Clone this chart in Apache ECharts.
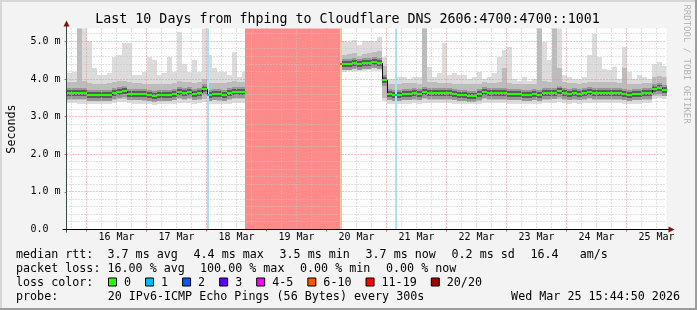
<!DOCTYPE html>
<html><head><meta charset="utf-8">
<script src="https://cdn.jsdelivr.net/npm/echarts@6/dist/echarts.min.js"></script>
<style>html,body{margin:0;padding:0;background:#f3f3f3}#c{width:697px;height:310px}</style>
</head><body><div id="c"></div>
<script>
// ---------------- data ----------------
const TITLE = 'Last 10 Days from fhping to Cloudflare DNS 2606:4700:4700::1001';
const START_HOUR = 16;   // hours since 15 Mar 00:00
const END_HOUR = 256;
const STEP = 2;          // hours per bucket

// median rtt per 2h bucket (ms)
const median = [
 3.64,3.63,3.62,3.62,3.57,3.58,3.58,3.58,3.585,3.62,3.655,3.68,3.60,3.60,3.60,3.59,3.566,3.55,3.566,3.57,
 3.585,3.60,3.65,3.62,3.646,3.59,3.637,3.73,3.575,3.60,3.59,3.58,3.62,3.66,3.645,3.645,
 null,null,null,null,null,null,null,null,null,null,null,null,null,null,null,null,null,null,null,
 4.39,4.39,4.42,4.40,4.43,4.43,4.46,4.42,3.97,
 3.59,3.58,3.575,3.60,3.60,3.62,3.59,3.655,3.62,3.637,3.62,3.62,3.62,3.59,3.575,3.575,3.557,3.557,3.59,3.655,
 3.62,3.62,3.62,3.637,3.59,3.59,3.59,3.575,3.575,3.59,3.575,3.62,3.62,3.637,3.68,3.62,3.59,3.62,3.59,3.62,
 3.655,3.637,3.637,3.637,3.637,3.637,3.62,3.59,3.575,3.59,3.59,3.62,3.62,3.73,3.75,3.72
];
// lowest ping
const minPing = [
 3.36,3.36,3.35,3.35,3.33,3.34,3.34,3.34,3.35,3.36,3.38,3.38,3.36,3.35,3.35,3.34,3.33,3.32,3.33,3.33,
 3.34,3.35,3.37,3.36,3.37,3.35,3.36,3.38,3.34,3.35,3.34,3.34,3.35,3.37,3.37,3.37,
 null,null,null,null,null,null,null,null,null,null,null,null,null,null,null,null,null,null,null,
 4.20,4.22,4.22,4.22,4.22,4.23,4.22,4.22,3.42,
 3.35,3.34,3.34,3.35,3.35,3.36,3.35,3.37,3.36,3.36,3.36,3.36,3.36,3.35,3.34,3.34,3.33,3.33,3.34,3.37,
 3.36,3.36,3.36,3.36,3.35,3.35,3.35,3.34,3.34,3.35,3.34,3.36,3.36,3.37,3.38,3.36,3.35,3.36,3.35,3.36,
 3.37,3.36,3.36,3.36,3.36,3.36,3.36,3.35,3.34,3.35,3.35,3.36,3.36,3.48,3.49,3.48
];
// 10th percentile ping
const p10 = [
 3.45,3.45,3.44,3.44,3.42,3.43,3.43,3.43,3.44,3.45,3.47,3.47,3.45,3.44,3.44,3.43,3.42,3.41,3.42,3.42,
 3.43,3.44,3.46,3.45,3.46,3.44,3.45,3.47,3.43,3.44,3.43,3.43,3.44,3.46,3.46,3.46,
 null,null,null,null,null,null,null,null,null,null,null,null,null,null,null,null,null,null,null,
 4.30,4.30,4.31,4.30,4.30,4.32,4.32,4.30,3.50,
 3.44,3.43,3.43,3.44,3.44,3.45,3.44,3.46,3.45,3.45,3.45,3.45,3.45,3.44,3.43,3.43,3.42,3.42,3.43,3.46,
 3.45,3.45,3.45,3.45,3.44,3.44,3.44,3.43,3.43,3.44,3.43,3.45,3.45,3.46,3.47,3.45,3.44,3.45,3.44,3.45,
 3.46,3.45,3.45,3.45,3.45,3.45,3.45,3.44,3.43,3.44,3.44,3.45,3.45,3.55,3.56,3.55
];
// 90th percentile ping
const p90 = [
 3.92,3.92,5.35,3.95,3.90,3.88,3.88,3.88,3.90,3.92,3.95,3.95,3.92,3.90,3.90,3.88,3.88,3.86,3.86,3.87,
 3.88,3.90,3.95,3.92,3.92,3.90,3.92,4.00,3.90,3.90,3.90,3.90,3.92,3.95,3.93,3.93,
 null,null,null,null,null,null,null,null,null,null,null,null,null,null,null,null,null,null,null,
 4.65,4.68,4.70,4.62,4.66,4.70,4.72,4.75,4.35,
 3.88,3.88,3.88,3.90,3.90,3.90,3.88,5.35,3.92,3.92,3.90,3.90,3.90,3.88,3.88,3.88,3.86,3.86,3.88,3.92,
 3.90,3.90,3.92,4.30,3.90,3.88,3.88,3.88,3.88,3.88,5.35,3.95,3.92,5.35,4.30,3.92,3.90,3.90,3.88,3.90,
 3.92,3.92,3.92,3.92,3.92,3.92,3.90,4.30,3.88,3.88,3.88,3.90,3.90,4.05,4.08,4.05
];
// highest ping
const maxPing = [
 4.15,4.20,5.35,5.35,5.00,4.30,4.10,4.10,4.15,4.60,4.65,4.95,4.95,4.10,4.10,4.20,4.60,4.50,4.10,4.15,
 4.60,4.20,5.25,4.40,4.20,4.50,4.20,5.35,4.65,4.30,4.20,4.20,4.10,4.73,4.05,4.20,
 null,null,null,null,null,null,null,null,null,null,null,null,null,null,null,null,null,null,null,
 5.00,4.98,5.03,4.90,5.00,5.02,5.00,5.12,4.60,
 4.00,4.00,4.06,4.06,4.00,4.05,4.05,5.35,4.33,4.06,4.15,4.96,4.10,4.15,4.10,4.10,4.00,4.06,4.20,4.00,
 4.05,4.15,4.60,4.78,4.86,4.00,3.95,4.05,3.95,4.00,5.35,4.98,4.50,5.35,5.35,4.10,4.05,4.00,4.00,4.05,
 4.63,5.21,4.59,4.28,4.25,4.33,4.00,4.86,4.20,4.00,4.10,4.05,4.00,4.40,4.45,4.35
];

// packet loss events (hours since 15 Mar 00:00, lost pings out of 20)
const lossStart = [72, 87.4, 125.4, 147.3];
const lossEnd   = [73, 125.7, 126.2, 148.1];
const lossCount = [1, 20, 8, 1];

// axes
const dayHours = [24, 48, 72, 96, 120, 144, 168, 192, 216, 240];
const dayLabelHours = [36, 60, 84, 108, 132, 156, 180, 204, 228, 252];
const dayLabels = ['16 Mar','17 Mar','18 Mar','19 Mar','20 Mar','21 Mar','22 Mar','23 Mar','24 Mar','25 Mar'];
const yTicks = [0, 1, 2, 3, 4, 5];
const yTickLabels = ['0.0', '1.0 m', '2.0 m', '3.0 m', '4.0 m', '5.0 m'];

// legend texts
const rttLegend = ['median rtt:  3.7 ms avg', '4.4 ms max', '3.5 ms min', '3.7 ms now', '0.2 ms sd', '16.4   am/s'];
const lossLegend = ['packet loss: 16.00 % avg', '100.00 % max', '0.00 % min', '0.00 % now'];
const lossClasses = ['0', '1', '2', '3', '4-5', '6-10', '11-19', '20/20'];
const probeText = '20 IPv6-ICMP Echo Pings (56 Bytes) every 300s';
const dateText = 'Wed Mar 25 15:44:50 2026';

// ---------------- styles ----------------
const FONT = '"DejaVu Sans Mono", monospace';
const lossLineColors = ['#26ff00', '#00b8ff', '#0059ff', '#5e00ff', '#ff00ff', '#ff5500', '#ff0000', '#a10000'];
function lossClassIdx(n) {
  if (n <= 0) return 0; if (n === 1) return 1; if (n === 2) return 2; if (n === 3) return 3;
  if (n <= 5) return 4; if (n <= 10) return 5; if (n <= 19) return 6; return 7;
}
const lossBgColors = { 1: '#a9e3f7', 5: '#ffc6a6', 7: '#ff8a8a' };
const Y_MAX = 5.345;
const GRID = { left: 66.5, top: 28.5, width: 600, height: 201 };

// ---------------- derived tables ----------------
const smokeData = [];
const medData = [];
median.forEach((m, i) => {
  if (m == null) return;
  const h = START_HOUR + i * STEP;
  smokeData.push([h, minPing[i], p10[i], p90[i], maxPing[i], m]);
  medData.push([h, m, i > 0 && median[i - 1] != null ? median[i - 1] : NaN]);
});
const lossData = lossStart.map((s, i) => [s, lossEnd[i], lossCount[i]]);
const lossMedData = [];
lossStart.forEach((s, i) => {
  const b = Math.floor((lossEnd[i] - 0.01 - START_HOUR) / STEP);
  if (median[b] != null) lossMedData.push([s, lossEnd[i], lossCount[i], median[b]]);
});
const gridData = [];
for (let h = START_HOUR + 2; h < END_HOUR; h += 6) if (h % 24) gridData.push([0, h]);
dayHours.forEach(h => gridData.push([1, h]));
for (let k = 1; k <= 26; k++) { if (k % 5) gridData.push([2, k / 5]); }
yTicks.forEach(v => { if (v > 0) gridData.push([3, v]); });

function clipR(r, cs) {
  return echarts.graphic.clipRectByRect(r, { x: cs.x, y: cs.y, width: cs.width, height: cs.height });
}
function band(api, cs, x0, x1, v0, v1, fill) {
  const xa = Math.round(api.coord([x0, 0])[0]);
  const xb = Math.round(api.coord([x1, 0])[0]);
  const ya = Math.round(api.coord([x0, v1])[1]);
  const yb = Math.round(api.coord([x0, v0])[1]);
  const r = clipR({ x: xa, y: ya, width: xb - xa, height: yb - ya }, cs);
  return r ? { type: 'rect', shape: r, style: { fill: fill } } : null;
}

// ---------------- chart ----------------
const chart = echarts.init(document.getElementById('c'), null, { renderer: 'canvas' });

const graphics = [];
// frame
graphics.push({ type: 'rect', shape: { x: 0, y: 0, width: 697, height: 2 }, style: { fill: '#d6d6d6' }, silent: true });
graphics.push({ type: 'rect', shape: { x: 0, y: 0, width: 2, height: 310 }, style: { fill: '#d6d6d6' }, silent: true });
graphics.push({ type: 'rect', shape: { x: 0, y: 308, width: 697, height: 2 }, style: { fill: '#9c9c9c' }, silent: true });
graphics.push({ type: 'rect', shape: { x: 695, y: 0, width: 2, height: 310 }, style: { fill: '#9c9c9c' }, silent: true });
// title
graphics.push({ type: 'text', x: 347.5, y: 19.5, style: { text: TITLE, font: '13.3px ' + FONT, fill: '#000', textAlign: 'center', textVerticalAlign: 'middle' } });
// rrdtool signature
graphics.push({ type: 'text', x: 686, y: 64, rotation: -Math.PI / 2, style: { text: 'RRDTOOL / TOBI OETIKER', font: '9px ' + FONT, fill: '#b4b4b4', textAlign: 'center', textVerticalAlign: 'middle' } });
// axis lines, extensions and arrows
const gx = GRID.left, gy0 = GRID.top, gy1 = GRID.top + GRID.height, gx1 = GRID.left + GRID.width;
graphics.push({ type: 'line', z: 100, shape: { x1: gx, y1: gy0 - 3, x2: gx, y2: gy1 + 3 }, style: { stroke: '#3a4a44', lineWidth: 1 } });
graphics.push({ type: 'line', z: 100, shape: { x1: gx - 4, y1: gy1, x2: gx1 + 3, y2: gy1 }, style: { stroke: '#000', lineWidth: 1 } });
graphics.push({ type: 'polygon', z: 100, shape: { points: [[gx, gy0 - 8], [gx - 3, gy0 - 2], [gx + 3, gy0 - 2]] }, style: { fill: '#8b0e0e' } });
graphics.push({ type: 'polygon', z: 100, shape: { points: [[gx1 + 8, gy1], [gx1 + 2, gy1 - 3], [gx1 + 2, gy1 + 3]] }, style: { fill: '#8b0e0e' } });

// legend rows
const legendFont = '11.7px ' + FONT;
const rowY = [254.5, 268.5, 282.5, 296.5];
const rttX = [16, 193.5, 279.5, 365.5, 451.5, 530.5];
rttLegend.forEach((t, i) => graphics.push({ type: 'text', x: rttX[i], y: rowY[0], style: { text: t, font: legendFont, fill: '#000', textVerticalAlign: 'middle' } }));
const lossX = [16, 200, 300, 386];
lossLegend.forEach((t, i) => graphics.push({ type: 'text', x: lossX[i], y: rowY[1], style: { text: t, font: legendFont, fill: '#000', textVerticalAlign: 'middle' } }));
graphics.push({ type: 'text', x: 16, y: rowY[2], style: { text: 'loss color:', font: legendFont, fill: '#000', textVerticalAlign: 'middle' } });
let bx = 108;
lossClasses.forEach((t, i) => {
  graphics.push({ type: 'rect', shape: { x: bx + 0.5, y: rowY[2] - 4.5, width: 8, height: 8 }, style: { fill: lossLineColors[i], stroke: '#000', lineWidth: 1 } });
  graphics.push({ type: 'text', x: bx + 16, y: rowY[2], style: { text: t, font: legendFont, fill: '#000', textVerticalAlign: 'middle' } });
  bx += 30 + 7.05 * t.length;
});
graphics.push({ type: 'text', x: 16, y: rowY[3], style: { text: 'probe:', font: legendFont, fill: '#000', textVerticalAlign: 'middle' } });
graphics.push({ type: 'text', x: 107.7, y: rowY[3], style: { text: probeText, font: legendFont, fill: '#000', textVerticalAlign: 'middle' } });
graphics.push({ type: 'text', x: 680, y: rowY[3], style: { text: dateText, font: legendFont, fill: '#000', textAlign: 'right', textVerticalAlign: 'middle' } });

const option = {
  animation: false,
  backgroundColor: '#f3f3f3',
  grid: { left: GRID.left, top: GRID.top, width: GRID.width, height: GRID.height, show: true, backgroundColor: '#ffffff', borderWidth: 0, containLabel: false, outerBoundsMode: 'none' },
  xAxis: {
    type: 'value', min: START_HOUR, max: END_HOUR,
    axisLine: { show: false },
    axisTick: { show: true, customValues: dayHours, length: 2, lineStyle: { color: '#e06060' } },
    axisLabel: { customValues: dayLabelHours, formatter: v => dayLabels[dayLabelHours.indexOf(v)] || '', fontFamily: FONT, fontSize: 10, color: '#000', margin: 3 },
    splitLine: { show: false }
  },
  yAxis: {
    type: 'value', min: 0, max: Y_MAX,
    name: 'Seconds', nameLocation: 'middle', nameGap: 49, nameRotate: 90,
    nameTextStyle: { fontFamily: FONT, fontSize: 11.7, color: '#000' },
    axisLine: { show: false },
    axisTick: { show: true, customValues: yTicks, length: 2, lineStyle: { color: '#e06060' } },
    axisLabel: { customValues: yTicks, formatter: v => yTickLabels[yTicks.indexOf(v)] || '', fontFamily: FONT, fontSize: 10, color: '#000', align: 'left', margin: 36 },
    splitLine: { show: false }
  },
  graphic: graphics,
  series: [
    { // smoke
      type: 'custom', z: 2, silent: true, data: smokeData,
      renderItem: (params, api) => {
        const cs = params.coordSys;
        const h = api.value(0), m = api.value(5);
        const ch = [
          band(api, cs, h, h + STEP, api.value(1), api.value(4), '#dcdcdc'),
          band(api, cs, h, h + STEP, api.value(2), api.value(3), '#bcbcbc')
        ];
        const xa = Math.round(api.coord([h, 0])[0]);
        const xb = Math.round(api.coord([h + STEP, 0])[0]);
        const ym = Math.round(api.coord([h, m])[1]);
        ch.push({ type: 'rect', shape: { x: xa, y: ym - 5, width: xb - xa, height: 11 }, style: { fill: '#979797' } });
        ch.push({ type: 'rect', shape: { x: xa, y: ym - 3, width: xb - xa, height: 6 }, style: { fill: '#5c5c5c' } });
        return { type: 'group', children: ch.filter(Boolean) };
      }
    },
    { // packet loss background
      type: 'custom', z: 3, silent: true, data: lossData,
      renderItem: (params, api) => {
        const cs = params.coordSys;
        const c = lossBgColors[lossClassIdx(api.value(2))] || '#ddd';
        const b = band(api, cs, api.value(0), api.value(1), 0, Y_MAX + 1, c);
        return b || { type: 'group', children: [] };
      }
    },
    { // grid lines
      type: 'custom', z: 4, silent: true, data: gridData,
      renderItem: (params, api) => {
        const cs = params.coordSys;
        const k = api.value(0), v = api.value(1);
        const col = (k === 1 || k === 3) ? '#ec8c8c' : '#c4c4c4';
        let shape;
        if (k < 2) {
          const x = Math.round(api.coord([v, 0])[0] - 0.5) + 0.5;
          shape = { x1: x, y1: cs.y, x2: x, y2: cs.y + cs.height };
        } else {
          const y = Math.round(api.coord([START_HOUR, v])[1] - 0.5) + 0.5;
          shape = { x1: cs.x, y1: y, x2: cs.x + cs.width, y2: y };
        }
        return { type: 'line', shape: shape, style: { stroke: col, lineWidth: 1, lineDash: [1, 2] } };
      }
    },
    { // median
      type: 'custom', z: 5, silent: true, data: medData,
      renderItem: (params, api) => {
        const h = api.value(0), m = api.value(1), pm = api.value(2);
        const xa = Math.round(api.coord([h, 0])[0]);
        const xb = Math.round(api.coord([h + STEP, 0])[0]);
        const ym = Math.round(api.coord([h, m])[1]);
        const ch = [];
        if (!isNaN(pm)) {
          const yp = Math.round(api.coord([h, pm])[1]);
          if (Math.abs(yp - ym) > 1) ch.push({ type: 'line', shape: { x1: xa + 0.5, y1: yp, x2: xa + 0.5, y2: ym }, style: { stroke: '#111', lineWidth: 1 } });
        }
        ch.push({ type: 'rect', shape: { x: xa, y: ym - 1, width: xb - xa, height: 2 }, style: { fill: lossLineColors[0] } });
        return { type: 'group', children: ch };
      }
    },
    { // median colored by loss
      type: 'custom', z: 6, silent: true, data: lossMedData,
      renderItem: (params, api) => {
        const xa = Math.round(api.coord([api.value(0), 0])[0]);
        const xb = Math.round(api.coord([api.value(1), 0])[0]);
        const ym = Math.round(api.coord([api.value(0), api.value(3)])[1]);
        return { type: 'rect', shape: { x: xa, y: ym - 1, width: Math.max(2, xb - xa), height: 2 }, style: { fill: lossLineColors[lossClassIdx(api.value(2))] } };
      }
    }
  ]
};
chart.setOption(option);
</script></body></html>
